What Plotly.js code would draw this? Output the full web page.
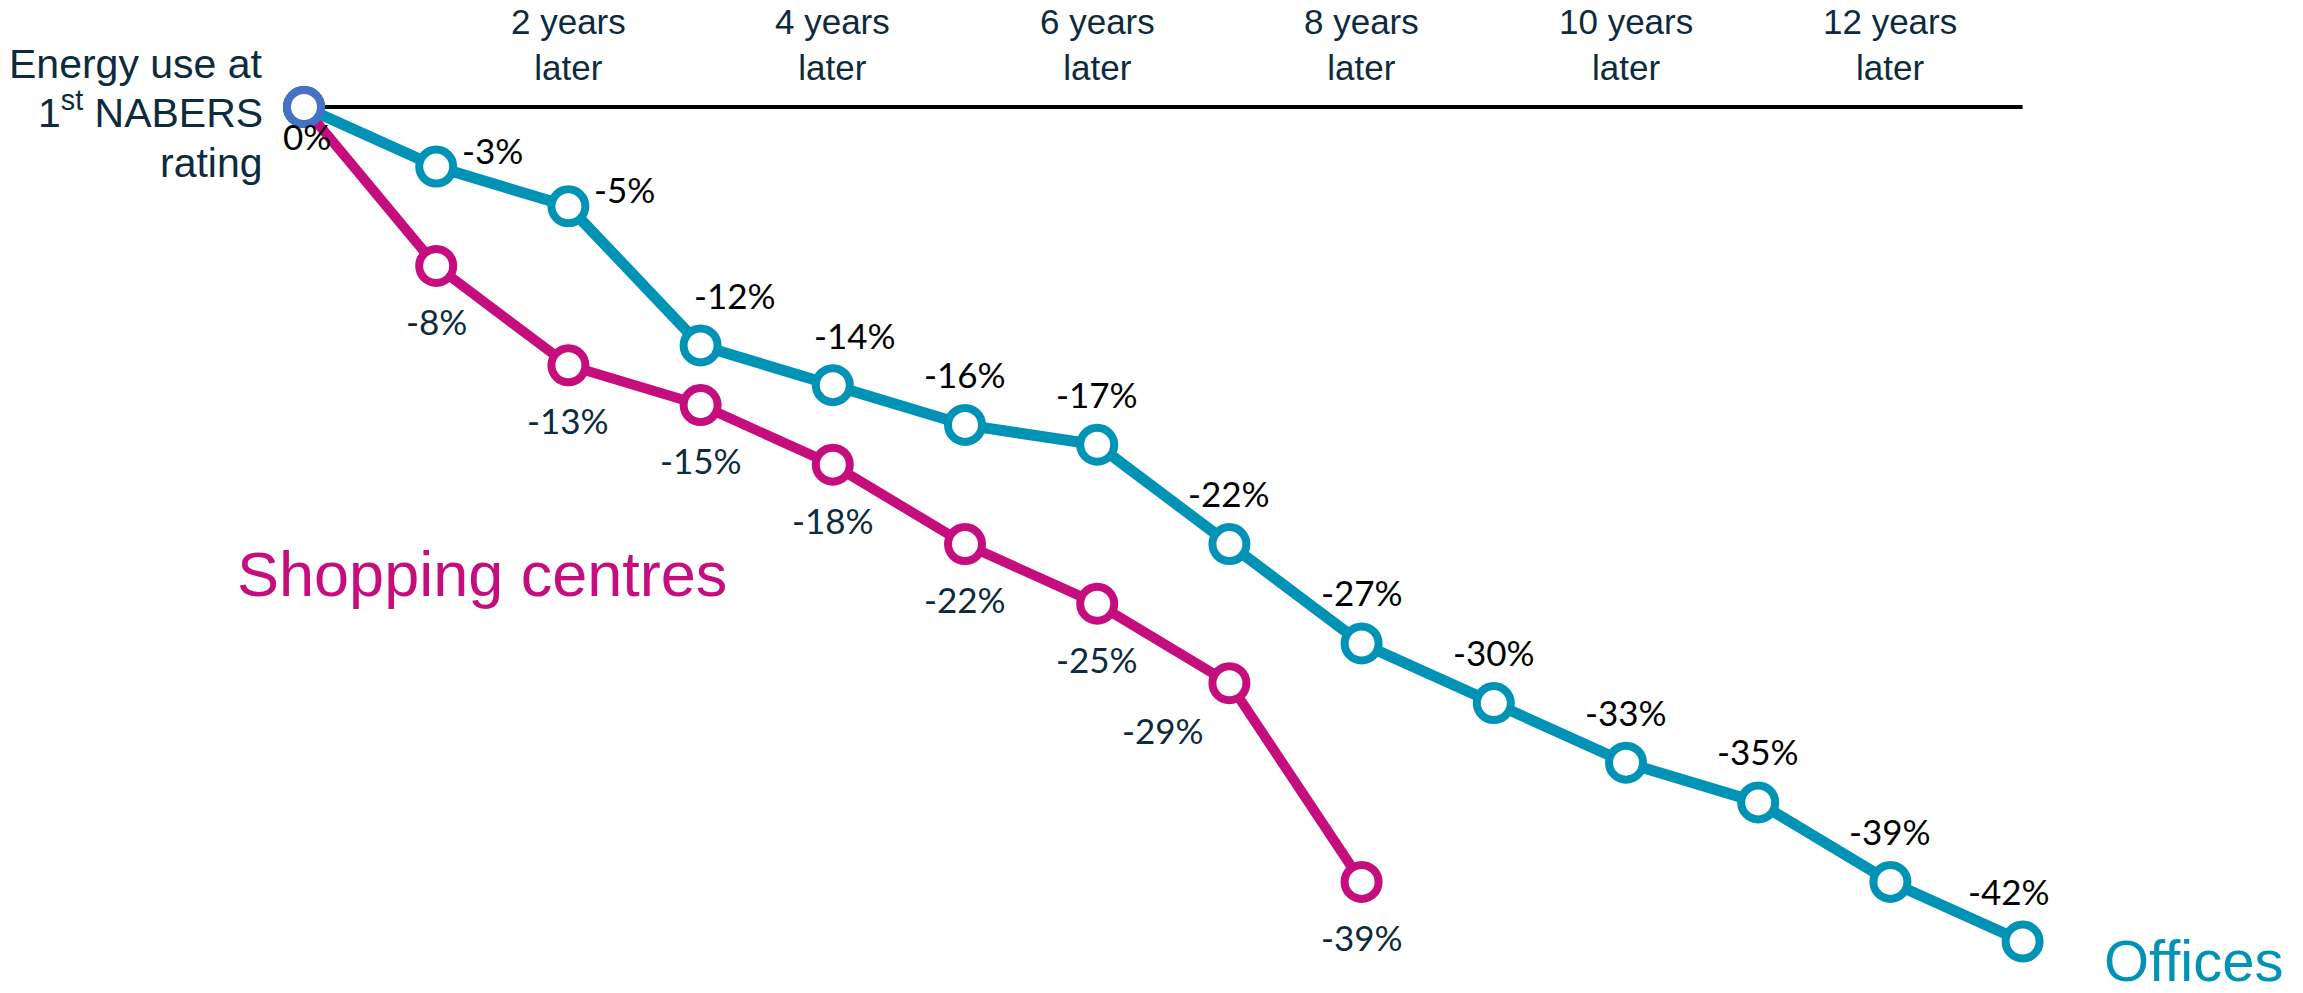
<!DOCTYPE html>
<html>
<head>
<meta charset="utf-8">
<script src="https://cdn.plot.ly/plotly-3.0.1.min.js"></script>
<style>html,body{margin:0;padding:0;background:#fff;}#chart{width:2303px;height:993px;}</style>
</head>
<body>
<div id="chart"></div>
<script>
// ---- data ----
const officeYears  = [0, 1, 2, 3, 4, 5, 6, 7, 8, 9, 10, 11, 12, 13];
const officeValues = [0, -3, -5, -12, -14, -16, -17, -22, -27, -30, -33, -35, -39, -42];
const shopYears    = [0, 1, 2, 3, 4, 5, 6, 7, 8];
const shopValues   = [0, -8, -13, -15, -18, -22, -25, -29, -39];
const topTickYears  = [2, 4, 6, 8, 10, 12];
const topTickLabels = ['2 years<br>later', '4 years<br>later', '6 years<br>later', '8 years<br>later', '10 years<br>later', '12 years<br>later'];
const startLabelLines = ['Energy use at', '1<sup>st</sup> NABERS', 'rating'];
const seriesNames = ['Offices', 'Shopping centres'];
// label placement keywords (style, not data)
const officeLabelPlace = ['below', 'right', 'right', 'aboveRight', 'aboveRight2', 'above', 'above', 'above', 'above', 'above', 'above', 'above', 'above', 'aboveLeft'];
const shopLabelPlace   = ['none', 'below', 'below', 'below', 'below', 'below', 'below', 'belowLeft', 'below'];

// ---- styles ----
const TEAL = '#0093B5', MAGENTA = '#C50D7D', BLUE = '#4472C4', NAVY = '#0E2B3D';
const W = 2303, H = 993;
const X0PX = 304, XSTEP = 132.2, Y0PX = 107, YSTEP = 19.869;

const placeShift = {
  below:       {dx: 3,   dy: -29, xa: 'center'},
  right:       {dx: 24,  dy: 17,  xa: 'left'},
  aboveRight:  {dx: 34,  dy: 50,  xa: 'center'},
  aboveRight2: {dx: 22,  dy: 50,  xa: 'center'},
  above:       {dx: 0,   dy: 51,  xa: 'center'},
  aboveLeft:   {dx: -14, dy: 51,  xa: 'center'},
  belowLeft:   {dx: -66, dy: -47, xa: 'center'}
};
const shopBelow = {dx: 0, dy: -55, xa: 'center'};

const fmt = v => v + '%';

const traces = [
  {
    x: shopYears, y: shopValues, name: seriesNames[1], type: 'scatter', mode: 'lines+markers',
    line: {color: MAGENTA, width: 10},
    marker: {symbol: 'circle', size: 34, color: '#ffffff', line: {color: MAGENTA, width: 8}},
    hoverinfo: 'x+y'
  },
  {
    x: officeYears, y: officeValues, name: seriesNames[0], type: 'scatter', mode: 'lines+markers',
    line: {color: TEAL, width: 11},
    marker: {symbol: 'circle', size: 34, color: '#ffffff', line: {color: TEAL, width: 8}},
    hoverinfo: 'x+y'
  },
  {
    x: [officeYears[0]], y: [officeValues[0]], name: 'start', type: 'scatter', mode: 'markers',
    marker: {symbol: 'circle', size: 34, color: '#ffffff', line: {color: BLUE, width: 8}},
    hoverinfo: 'x+y'
  }
];

const annotations = [];
const dataFont = {family: 'Lato, "Open Sans", sans-serif', size: 35};

officeValues.forEach((v, i) => {
  const p = placeShift[officeLabelPlace[i]];
  annotations.push({
    x: officeYears[i], y: v, xref: 'x', yref: 'y', text: fmt(v), showarrow: false,
    xanchor: p.xa, yanchor: 'middle', xshift: p.dx, yshift: p.dy,
    font: Object.assign({color: '#000000'}, dataFont)
  });
});
shopValues.forEach((v, i) => {
  if (shopLabelPlace[i] === 'none') return;
  const p = shopLabelPlace[i] === 'below' ? shopBelow : placeShift[shopLabelPlace[i]];
  annotations.push({
    x: shopYears[i], y: v, xref: 'x', yref: 'y', text: fmt(v), showarrow: false,
    xanchor: p.xa, yanchor: 'middle', xshift: p.dx, yshift: p.dy,
    font: Object.assign({color: NAVY}, dataFont)
  });
});

topTickYears.forEach((yr, i) => {
  annotations.push({
    x: yr, y: 1 - 44 / H, xref: 'x', yref: 'paper', text: topTickLabels[i], showarrow: false,
    xanchor: 'center', yanchor: 'middle', align: 'center',
    font: {family: '"Liberation Sans", Arial, sans-serif', size: 35, color: NAVY}
  });
});

const startBottoms = [88, 137, 187];
startLabelLines.forEach((t, i) => {
  annotations.push({
    x: officeYears[0], y: 1 - startBottoms[i] / H, xref: 'x', yref: 'paper', text: t, showarrow: false,
    xanchor: 'right', yanchor: 'bottom', xshift: -40, align: 'right', borderpad: 0,
    font: {family: '"Liberation Sans", Arial, sans-serif', size: 41, color: NAVY}
  });
});

annotations.push({
  x: 235 / W, y: 1 - 574 / H, xref: 'paper', yref: 'paper', text: seriesNames[1], showarrow: false,
  xanchor: 'left', yanchor: 'middle',
  font: {family: '"Liberation Sans", Arial, sans-serif', size: 63, color: MAGENTA}
});
annotations.push({
  x: 2103 / W, y: 1 - 960 / H, xref: 'paper', yref: 'paper', text: seriesNames[0], showarrow: false,
  xanchor: 'left', yanchor: 'middle', borderpad: 0,
  font: {family: '"Liberation Sans", Arial, sans-serif', size: 58, color: TEAL}
});

const layout = {
  width: W, height: H,
  margin: {l: 0, r: 0, t: 0, b: 0, pad: 0},
  paper_bgcolor: '#ffffff', plot_bgcolor: '#ffffff',
  showlegend: false,
  xaxis: {range: [-X0PX / XSTEP, (W - X0PX) / XSTEP], visible: false, fixedrange: true},
  yaxis: {range: [-(H - Y0PX) / YSTEP, Y0PX / YSTEP], visible: false, fixedrange: true},
  shapes: [{
    type: 'line', xref: 'x', yref: 'y', layer: 'below',
    x0: officeYears[0], x1: officeYears[officeYears.length - 1], y0: 0, y1: 0,
    line: {color: '#000000', width: 4}
  }],
  annotations: annotations
};

Plotly.newPlot('chart', traces, layout, {displayModeBar: false, staticPlot: true});
</script>
</body>
</html>
